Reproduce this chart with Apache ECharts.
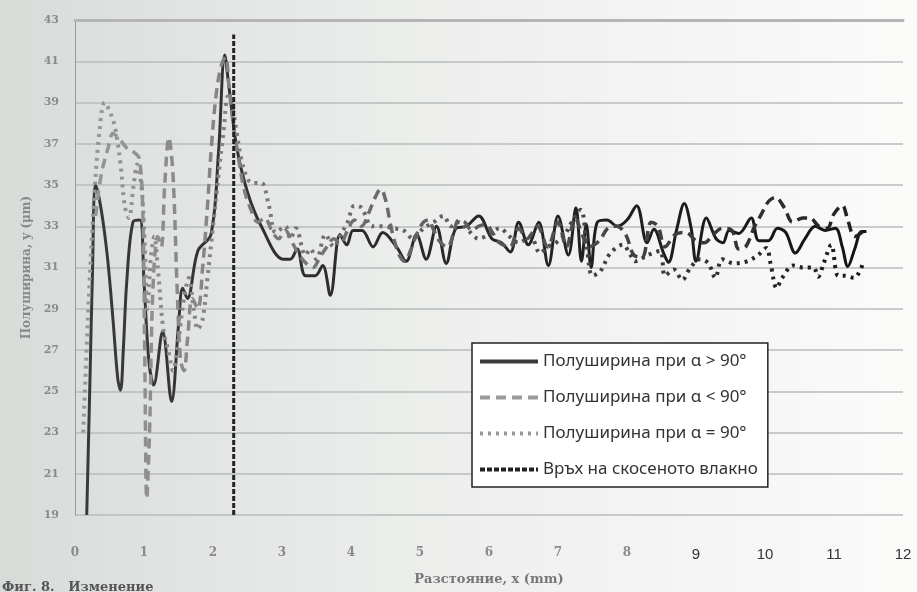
<!DOCTYPE html>
<html><head><meta charset="utf-8">
<script src="https://cdn.jsdelivr.net/npm/echarts@6/dist/echarts.min.js"></script>
<style>html,body{margin:0;padding:0;}#c{width:917px;height:592px;}</style>
</head><body><div id="c"></div>
<script>
// Полуширина при α > 90° (solid)
const seriesGt90 = [[0.17,19.0],[0.22,26.0],[0.25,30.3],[0.30,35.0],[0.38,33.8],[0.47,31.5],[0.55,28.5],[0.62,25.6],[0.66,25.05],[0.70,27.0],[0.75,30.3],[0.84,33.2],[0.94,33.3],[1.0,30.3],[1.07,26.5],[1.14,25.3],[1.27,27.9],[1.40,24.5],[1.50,28.2],[1.56,30.0],[1.63,29.5],[1.78,31.8],[1.97,32.6],[2.08,36.6],[2.17,41.3],[2.23,39.8],[2.34,36.9],[2.5,34.65],[2.7,33.0],[3.02,31.4],[3.12,31.4],[3.22,31.9],[3.34,30.6],[3.48,30.6],[3.59,31.1],[3.70,29.65],[3.84,32.6],[3.94,32.1],[4.03,32.8],[4.16,32.8],[4.32,32.0],[4.46,32.7],[4.66,32.0],[4.80,31.3],[4.95,32.6],[5.09,31.4],[5.24,33.0],[5.38,31.2],[5.52,32.9],[5.67,33.0],[5.85,33.5],[6.04,32.4],[6.18,32.2],[6.31,31.75],[6.43,33.2],[6.57,32.1],[6.72,33.2],[6.86,31.1],[7.0,33.5],[7.15,31.6],[7.26,33.9],[7.34,31.3],[7.41,33.1],[7.48,31.0],[7.57,33.2],[7.71,33.3],[7.86,33.0],[8.0,33.3],[8.14,34.0],[8.29,32.2],[8.39,32.85],[8.53,31.7],[8.6,31.25],[8.72,32.85],[8.83,34.1],[8.93,32.9],[9.0,31.3],[9.15,33.4],[9.29,32.4],[9.39,32.2],[9.48,32.8],[9.62,32.65],[9.8,33.4],[9.91,32.3],[10.05,32.3],[10.18,32.9],[10.3,32.7],[10.44,31.7],[10.58,32.4],[10.73,33.0],[10.87,32.8],[11.02,32.9],[11.12,32.0],[11.2,31.05],[11.3,31.9],[11.4,32.75],[11.47,32.75]];
// Полуширина при α < 90° (dashed)
const seriesLt90 = [[0.3,33.5],[0.38,35.5],[0.48,36.8],[0.55,37.5],[0.65,37.2],[0.75,36.8],[0.85,36.6],[0.93,36.3],[0.98,34.0],[1.01,27.0],[1.04,19.8],[1.08,23.0],[1.13,30.0],[1.2,32.5],[1.25,32.0],[1.3,35.0],[1.36,37.3],[1.42,35.5],[1.48,30.0],[1.53,26.5],[1.58,26.0],[1.63,27.5],[1.7,29.5],[1.78,29.0],[1.85,31.0],[1.92,34.0],[1.98,37.0],[2.05,39.5],[2.12,40.8],[2.18,41.2],[2.24,39.5],[2.3,37.8],[2.36,36.5],[2.45,34.8],[2.55,33.8],[2.65,33.2],[2.75,33.4],[2.85,32.8],[2.95,32.4],[3.05,32.8],[3.15,32.2],[3.25,31.6],[3.35,31.2],[3.45,31.0],[3.55,31.5],[3.65,32.0],[3.75,32.4],[3.85,32.2],[3.95,32.8],[4.05,33.3],[4.15,33.0],[4.25,33.6],[4.35,34.4],[4.43,34.8],[4.5,34.3],[4.56,33.3],[4.62,32.4],[4.7,31.6],[4.78,31.3],[4.86,31.8],[4.95,32.6],[5.05,33.2],[5.12,33.3],[5.2,32.8],[5.3,32.2],[5.4,32.0],[5.48,32.6],[5.56,33.3],[5.65,33.2],[5.75,32.8],[5.85,33.0],[5.95,33.1],[6.05,32.7],[6.15,32.2],[6.3,32.0],[6.43,32.9],[6.55,32.4],[6.7,33.0],[6.85,32.0],[7.0,33.2],[7.12,32.0],[7.25,33.4],[7.35,32.6],[7.45,32.0],[7.6,32.3],[7.72,32.9],[7.85,33.0],[7.98,32.6],[8.1,31.6],[8.22,31.5],[8.35,33.2],[8.45,33.0],[8.55,32.0],[8.7,32.6],[8.85,32.7],[9.0,32.3],[9.12,32.2],[9.25,32.6],[9.38,32.9],[9.52,32.8],[9.62,31.9],[9.72,32.0],[9.85,33.0],[9.95,33.6],[10.05,34.2],[10.15,34.4],[10.28,33.9],[10.4,33.2],[10.55,33.4],[10.65,33.4],[10.78,33.0],[10.9,32.9],[11.0,33.6],[11.12,34.0],[11.2,33.3],[11.3,32.5],[11.44,32.8]];
// Полуширина при α = 90° (dotted)
const seriesEq90 = [[0.12,23.0],[0.2,29.5],[0.28,34.5],[0.36,37.8],[0.43,39.0],[0.5,38.6],[0.58,37.8],[0.66,36.0],[0.72,34.0],[0.78,33.4],[0.85,35.0],[0.9,36.0],[0.96,35.0],[1.0,33.0],[1.05,29.0],[1.1,31.5],[1.15,32.5],[1.2,31.0],[1.28,28.0],[1.35,27.0],[1.42,26.0],[1.5,27.5],[1.58,29.5],[1.65,30.5],[1.72,29.0],[1.78,28.0],[1.85,28.5],[1.92,30.5],[2.0,33.0],[2.08,35.5],[2.15,37.5],[2.22,39.3],[2.28,38.8],[2.34,37.6],[2.41,36.25],[2.5,35.3],[2.57,35.1],[2.7,35.1],[2.81,34.0],[2.91,32.7],[3.05,33.0],[3.12,32.4],[3.2,32.9],[3.34,31.6],[3.41,31.9],[3.5,31.4],[3.63,32.6],[3.75,32.0],[3.85,32.6],[3.95,33.2],[4.05,34.0],[4.15,33.9],[4.31,33.0],[4.45,33.0],[4.62,32.9],[4.76,32.8],[4.9,32.4],[5.05,32.9],[5.2,33.2],[5.34,33.5],[5.45,33.0],[5.56,33.2],[5.7,32.8],[5.85,32.4],[6.0,32.6],[6.15,32.9],[6.3,32.5],[6.43,32.2],[6.6,32.5],[6.74,31.7],[6.85,32.0],[6.97,32.2],[7.1,32.6],[7.2,33.2],[7.33,33.8],[7.42,31.9],[7.5,30.6],[7.61,30.8],[7.76,31.7],[7.94,32.1],[8.05,31.6],[8.12,31.3],[8.3,31.6],[8.48,31.8],[8.55,30.6],[8.68,30.9],[8.8,30.4],[8.92,31.0],[9.06,31.4],[9.18,31.2],[9.28,30.5],[9.38,31.4],[9.55,31.2],[9.74,31.3],[9.9,31.6],[10.02,31.95],[10.08,31.2],[10.17,30.0],[10.25,30.5],[10.41,31.1],[10.55,31.0],[10.7,31.0],[10.77,30.55],[10.85,31.2],[10.96,32.1],[11.06,30.6],[11.15,30.6],[11.29,30.5],[11.43,31.3]];
// Връх на скосеното влакно (vertical line)
const peakLine = [[2.3,19],[2.3,42.3]];
const seriesNames = ['Полуширина при α > 90°','Полуширина при α < 90°','Полуширина при α = 90°','Връх на скосеното влакно'];
const xTitle = 'Разстояние, x (mm)';
const yTitle = 'Полуширина, y (μm)';

function grad(a,b){
  return new echarts.graphic.LinearGradient(75,0,903,0,[{offset:0,color:a},{offset:1,color:b}],true);
}
const noDot = {color:'rgba(0,0,0,0)',borderWidth:0};
const chart = echarts.init(document.getElementById('c'));
chart.setOption({
  animation:false,
  backgroundColor:{type:'linear',x:0,y:0,x2:1,y2:0,colorStops:[{offset:0,color:'#d8dcd9'},{offset:0.45,color:'#eceeec'},{offset:1,color:'#fbfbfa'}]},
  grid:{left:75,right:14,top:20,bottom:77},
  legend:{
    orient:'vertical',left:472,top:343,
    backgroundColor:'#ffffff',borderColor:'#222',borderWidth:1.5,
    padding:[10,10,9,6],itemGap:19,itemWidth:58,itemHeight:12,
    itemStyle:noDot,
    lineStyle:{width:4},
    textStyle:{fontFamily:'Noto Sans',fontSize:17,color:'#333'},
    data:seriesNames
  },
  xAxis:[{
    type:'value',min:0,max:12,interval:1,
    axisLine:{show:false},axisTick:{show:false},splitLine:{show:false},
    axisLabel:{margin:32,formatter:function(v){return v<=8?'{g|'+v+'}':'{d|'+v+'}';},
      rich:{g:{color:'#8a8a8a',fontFamily:'DejaVu Serif',fontSize:12,fontWeight:'bold'},d:{color:'#333',fontFamily:'Liberation Sans',fontSize:15}}},
    name:xTitle,nameLocation:'middle',nameGap:58,
    nameTextStyle:{fontFamily:'DejaVu Serif',fontWeight:'bold',fontSize:13,color:'#777'}
  },{
    type:'value',position:'top',min:0,max:12,
    axisLine:{show:true,lineStyle:{color:'#b5b5b5',width:3}},axisTick:{show:false},axisLabel:{show:false},splitLine:{show:false}
  }],
  yAxis:{
    type:'value',min:19,max:43,interval:2,
    axisLine:{show:true,lineStyle:{color:'#999',width:1}},axisTick:{show:false},
    splitLine:{show:true,lineStyle:{color:'#b9bcba',width:1.5}},
    axisLabel:{margin:16,color:'#8a8a8a',fontFamily:'DejaVu Serif',fontSize:11,fontWeight:'bold'},
    name:yTitle,nameLocation:'middle',nameGap:36,nameRotate:90,
    nameTextStyle:{fontFamily:'DejaVu Serif',fontWeight:'bold',fontSize:12,color:'#888'}
  },
  series:[
    {name:seriesNames[0],type:'line',data:seriesGt90,smooth:0.35,symbol:'none',
      lineStyle:{color:grad('#3a3a3a','#111'),width:3},itemStyle:noDot},
    {name:seriesNames[1],type:'line',data:seriesLt90,smooth:0.35,symbol:'none',
      lineStyle:{color:grad('#9a9a9a','#1a1a1a'),width:3.5,type:[10,6]},itemStyle:noDot},
    {name:seriesNames[2],type:'line',data:seriesEq90,smooth:0.35,symbol:'none',
      lineStyle:{color:grad('#999','#111'),width:4,type:[3,5],cap:'butt'},itemStyle:noDot},
    {name:seriesNames[3],type:'line',data:peakLine,symbol:'none',
      lineStyle:{color:'#222',width:3,type:[5,2]},itemStyle:noDot}
  ],
  graphic:[{type:'text',left:2,top:581,style:{text:'Фиг. 8.   Изменение',fontFamily:'DejaVu Serif',fontWeight:'bold',fontSize:13,fill:'#555'}}]
});
</script></body></html>
